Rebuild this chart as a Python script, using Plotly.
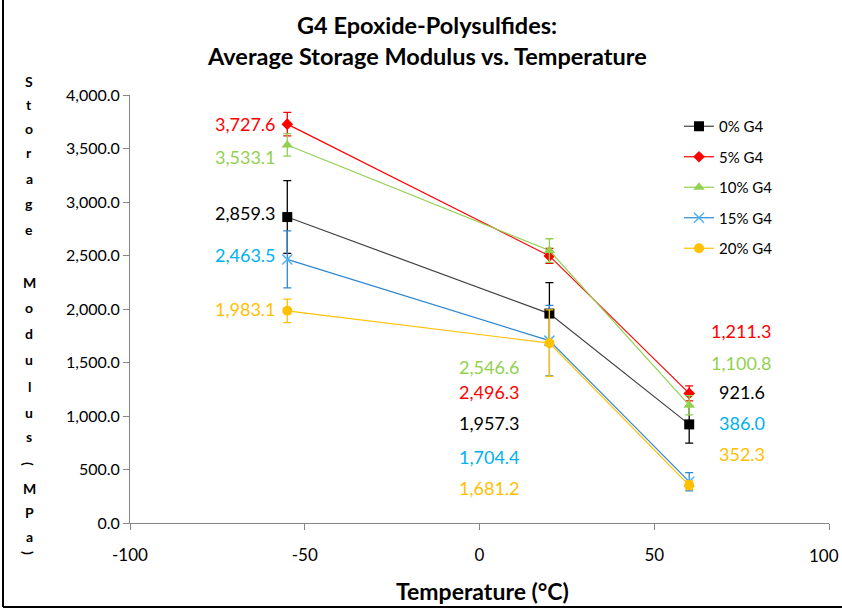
import plotly.graph_objects as go

temps = [-55, 20, 60]
series_names = ["0% G4", "5% G4", "10% G4", "15% G4", "20% G4"]
g4_0 = [2859.3, 1957.3, 921.6]
g4_5 = [3727.6, 2496.3, 1211.3]
g4_10 = [3533.1, 2546.6, 1100.8]
g4_15 = [2463.5, 1704.4, 386.0]
g4_20 = [1983.1, 1681.2, 352.3]
err_0 = [340, 290, 175]
err_5 = [110, 70, 70]
err_10 = [105, 110, 90]
err_15 = [266, 330, 85]
err_20 = [110, 310, 40]
x_ticks = [-100, -50, 0, 50, 100]
y_ticks = [0, 500, 1000, 1500, 2000, 2500, 3000, 3500, 4000]

FONT = "Lato, 'Open Sans', sans-serif"

values = [g4_0, g4_5, g4_10, g4_15, g4_20]
errors = [err_0, err_5, err_10, err_15, err_20]
line_colors = ["#404040", "#FF0000", "#92D050", "#2E86D1", "#FFC000"]
marker_colors = ["#000000", "#FF0000", "#92D050", "#4FB3F0", "#FFC000"]
err_colors = ["#000000", "#FF0000", "#92D050", "#2E86D1", "#FFC000"]
label_colors = ["#000000", "#FF0000", "#92D050", "#00B0F0", "#FFC000"]
symbols = ["square", "diamond", "triangle-up", "x-thin", "circle"]
sizes = [10, 9, 10, 10, 10]

fig = go.Figure()
for i in range(5):
    mk = dict(symbol=symbols[i], size=sizes[i], color=marker_colors[i])
    if symbols[i] == "x-thin":
        mk["line"] = dict(color=marker_colors[i], width=1.5)
    fig.add_trace(go.Scatter(
        x=temps, y=values[i], name=series_names[i], mode="lines+markers",
        line=dict(color=line_colors[i], width=1.2),
        marker=mk,
        error_y=dict(type="data", array=errors[i], visible=True,
                     color=err_colors[i], thickness=1.3, width=4),
        legendgroup=series_names[i],
    ))

# pixel positions are window pixels, converted relative to the plot area
# (x: 130..829, y: 95..523)
def px_x(p):
    return (p - 130) / 699


def px_y(p):
    return (523 - p) / 428


label_x = [-67, 3, 75]
label_y = [
    [2897, 935, 1224],
    [3729, 1224, 1794],
    [3420, 1458, 1495],
    [2505, 617, 935],
    [2000, 327, 645],
]
annotations = []
for i in range(5):
    for j in range(3):
        annotations.append(dict(
            x=label_x[j], y=label_y[i][j], xref="x", yref="y",
            text=f"{values[i][j]:,.1f}", showarrow=False,
            xanchor="center", yanchor="middle",
            font=dict(family=FONT, size=18, color=label_colors[i]),
        ))

# title (two lines)
for txt, py in [("<b>G4 Epoxide-Polysulfides:</b>", 25),
                ("<b>Average Storage Modulus vs. Temperature</b>", 56)]:
    annotations.append(dict(x=px_x(427), y=px_y(py), xref="paper", yref="paper",
                            text=txt, showarrow=False, xanchor="center", yanchor="middle",
                            font=dict(family=FONT, size=23.5, color="#000000")))

# x-axis title
annotations.append(dict(x=px_x(482), y=px_y(591), xref="paper", yref="paper",
                        text="<b>Temperature (°C)</b>", showarrow=False,
                        xanchor="center", yanchor="middle",
                        font=dict(family=FONT, size=23, color="#000000")))

# last x tick label sits at the right edge of the picture: draw it right-aligned
x_ticktext = [str(v) for v in x_ticks]
last_tick_text = x_ticktext[-1]
x_ticktext[-1] = ""
annotations.append(dict(x=px_x(841), y=px_y(555), xref="paper", yref="paper",
                        text=last_tick_text, showarrow=False,
                        xanchor="right", yanchor="middle",
                        font=dict(family=FONT, size=17, color="#000000")))

# stacked vertical y-axis title
ytitle_chars = list("Storage") + list("Modulus") + list("(MPa)")
ytitle_px = [81, 104, 128, 152, 178, 204, 229,
             282, 307, 333, 359, 386, 412, 436,
             464, 488, 512, 536, 553]
for ch, py in zip(ytitle_chars, ytitle_px):
    ang = 90 if ch in "()" else 0
    annotations.append(dict(
        x=px_x(29), y=px_y(py), xref="paper", yref="paper",
        text=f"<b>{ch}</b>", showarrow=False, textangle=ang,
        xanchor="center", yanchor="middle",
        font=dict(family=FONT, size=14, color="#000000"),
    ))

fig.update_layout(
    width=842, height=610,
    margin=dict(l=130, r=13, t=95, b=87, autoexpand=False),
    paper_bgcolor="white", plot_bgcolor="white",
    showlegend=True,
    legend=dict(x=px_x(679), y=px_y(110), xanchor="left", yanchor="top",
                font=dict(family=FONT, size=15, color="#000000"),
                bgcolor="rgba(0,0,0,0)", tracegroupgap=8),
    xaxis=dict(range=[-100, 100], tickvals=x_ticks, ticktext=x_ticktext,
               showgrid=False, zeroline=False, showline=True, linecolor="#868686", linewidth=1,
               ticks="outside", ticklen=6, tickcolor="#868686", ticklabelstandoff=11,
               automargin=False,
               tickfont=dict(family=FONT, size=17, color="#000000")),
    yaxis=dict(range=[0, 4000], tickvals=y_ticks, tickformat=",.1f",
               showgrid=False, zeroline=False, showline=True, linecolor="#868686", linewidth=1,
               ticks="outside", ticklen=6, tickcolor="#868686", automargin=False,
               tickfont=dict(family=FONT, size=16, color="#000000")),
    annotations=annotations,
    shapes=[
        dict(type="line", xref="paper", yref="paper", x0=px_x(3), x1=px_x(3),
             y0=px_y(0), y1=px_y(607), line=dict(color="#000000", width=2)),
        dict(type="line", xref="paper", yref="paper", x0=px_x(3), x1=px_x(842),
             y0=px_y(607), y1=px_y(607), line=dict(color="#000000", width=2)),
    ],
)

fig.write_html("out.html", config={"displayModeBar": False},
               post_script="document.body.style.margin='0';")
